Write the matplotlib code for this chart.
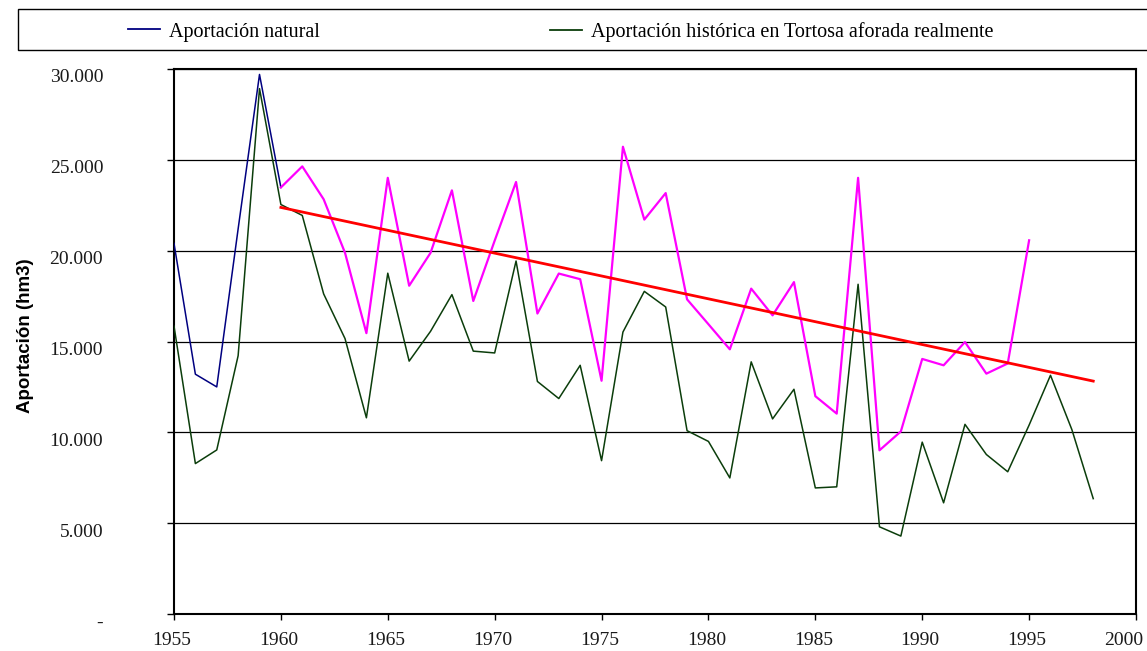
import matplotlib
matplotlib.use("Agg")
import matplotlib.pyplot as plt
import matplotlib.transforms as mtransforms
from matplotlib.lines import Line2D
from matplotlib.patches import Rectangle
from matplotlib.ticker import FuncFormatter

# ---------------------------------------------------------------------------
# Data (hm3 per year)
# ---------------------------------------------------------------------------
natural_years = list(range(1955, 1996))
natural_vals = [
    20400, 13200, 12500, 21200, 29700,                      # 1955-1959
    23480, 24640, 22830, 19880, 15460, 24010, 18070, 19880, 23320, 17230,  # 1960-1969
    20550, 23780, 16540, 18740, 18430, 12840, 25720, 21710, 23170, 17320,  # 1970-1979
    15950, 14570, 17910, 16440, 18270, 11990, 11030, 24010, 9010, 10050,   # 1980-1989
    14040, 13690, 14970, 13230, 13790, 20570,                             # 1990-1995
]

hist_years = list(range(1955, 1999))
hist_vals = [
    15850, 8280, 9030, 14220, 28920,
    22540, 21940, 17620, 15160, 10800, 18760, 13920, 15560, 17580, 14470,
    14370, 19430, 12800, 11860, 13690, 8440, 15520, 17760, 16900, 10090,
    9500, 7490, 13880, 10740, 12370, 6940, 7000, 18150, 4800, 4290,
    9460, 6120, 10440, 8780, 7830, 10400, 13140, 10150, 6350,
]

trend_years = [1960, 1998]
trend_vals = [22380, 12820]

x_ticks = [1955, 1960, 1965, 1970, 1975, 1980, 1985, 1990, 1995, 2000]
y_ticks = [0, 5000, 10000, 15000, 20000, 25000, 30000]

legend_labels = ["Aportación natural",
                 "Aportación histórica en Tortosa aforada realmente"]

# ---------------------------------------------------------------------------
# Style
# ---------------------------------------------------------------------------
BLUE    = "#000080"
MAGENTA = "#FF00FF"
GREEN   = "#0B3D0B"
RED     = "#FF0000"
SERIF   = "Liberation Serif"

fig = plt.figure(figsize=(11.47, 6.51), dpi=100)
ax = fig.add_axes([174 / 1147, 1 - 614 / 651, 962 / 1147, 545 / 651])

# Lines
ax.plot(hist_years, hist_vals, color=GREEN, lw=1.1, zorder=3)
ax.plot(natural_years[:6], natural_vals[:6], color=BLUE, lw=1.1, zorder=4)
ax.plot(natural_years[5:], natural_vals[5:], color=MAGENTA, lw=1.6, zorder=4)
ax.plot(trend_years, trend_vals, color=RED, lw=2.0, zorder=5)

# Axes
ax.set_xlim(1955, 2000)
ax.set_ylim(0, 30000)
ax.set_xticks(x_ticks)
ax.set_yticks(y_ticks)
ax.yaxis.set_major_formatter(FuncFormatter(
    lambda v, p: "-" if v == 0 else f"{v:,.0f}".replace(",", ".")))

ax.grid(axis="y", color="black", lw=0.9, zorder=1)
ax.set_axisbelow(True)
for spine in ax.spines.values():
    spine.set_linewidth(1.5)
    spine.set_color("black")

ax.tick_params(axis="x", direction="out", length=4, width=1, pad=9,
               labelsize=14, labelcolor="#1A1A1A")
ax.tick_params(axis="y", direction="out", length=5, width=1, pad=46,
               labelsize=14, labelcolor="#1A1A1A")

for lab in ax.get_xticklabels() + ax.get_yticklabels():
    lab.set_fontfamily(SERIF)
xlabels = ax.get_xticklabels()
for lab in xlabels[:-1]:
    lab.set_transform(lab.get_transform()
                      + mtransforms.ScaledTranslation(-2 / 100, 0, fig.dpi_scale_trans))
# last year label sits inside the figure edge, as in the original
xlabels[-1].set_horizontalalignment("right")
xlabels[-1].set_transform(xlabels[-1].get_transform()
                          + mtransforms.ScaledTranslation(7 / 100, 0, fig.dpi_scale_trans))
for lab in ax.get_yticklabels():
    lab.set_horizontalalignment("right")
    lab.set_transform(lab.get_transform()
                      + mtransforms.ScaledTranslation(0, -5 / 72, fig.dpi_scale_trans))

ax.set_ylabel("Aportación (hm3)", fontsize=13.5, fontweight="bold",
              family="Liberation Sans")
ax.yaxis.set_label_coords(-0.146, 0.51)

# Legend box across the top
fig.patches.append(Rectangle((18 / 1147, 1 - 50 / 651), 1.2, 41 / 651,
                             transform=fig.transFigure, facecolor="white",
                             edgecolor="black", lw=1, clip_on=False))

legend_x = [128 / 1147, 550 / 1147]
for x0, label, color in zip(legend_x, legend_labels, [BLUE, GREEN]):
    fig.legend([Line2D([], [], color=color, lw=1.3)], [label],
               loc="center left", bbox_to_anchor=(x0, 1 - 32 / 651),
               frameon=False, borderpad=0, borderaxespad=0,
               handlelength=1.6, handletextpad=0.45,
               prop={"family": SERIF, "size": 14.5})

fig.savefig("out.png", dpi=100, facecolor="white")
